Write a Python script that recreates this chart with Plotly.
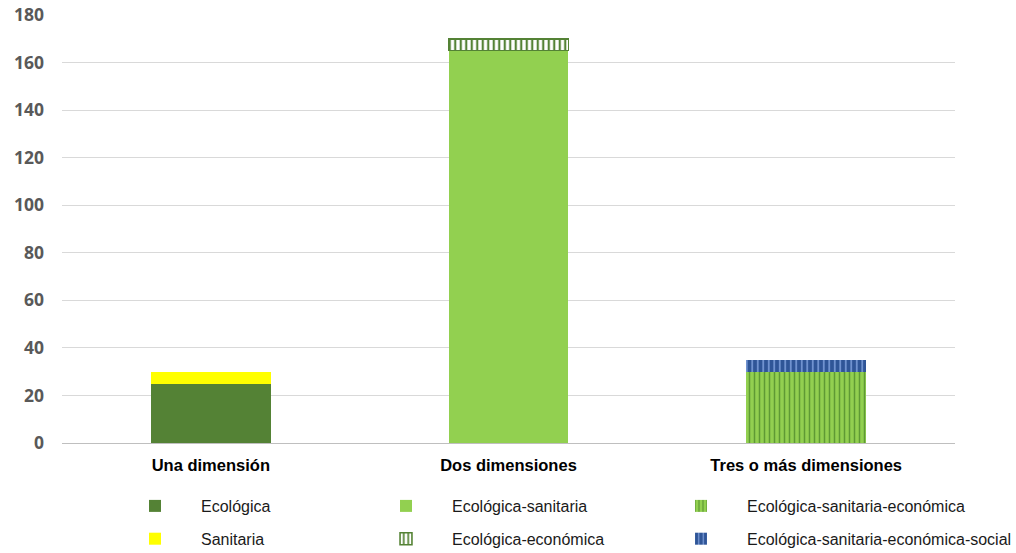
import plotly.graph_objects as go

# Categories on the x axis
categories = ["Una dimensión", "Dos dimensiones", "Tres o más dimensiones"]

# Stacked series (one segment per category, None where a series is absent)
ecologica = [25, None, None]
sanitaria = [5, None, None]
eco_sanitaria = [None, 165, None]
eco_economica = [None, 5, None]
eco_san_economica = [None, None, 30]
eco_san_econ_social = [None, None, 5]

# Y axis ticks
y_ticks = [0, 20, 40, 60, 80, 100, 120, 140, 160, 180]

DARK_GREEN = "#548235"
LIGHT_GREEN = "#92D050"
YELLOW = "#FFFF00"
BLUE = "#2F5597"

fig = go.Figure()


def add_bar(name, values, legend, group, color, pattern=None, line=None):
    marker = dict(color=color)
    if pattern is not None:
        marker["pattern"] = pattern
    if line is not None:
        marker["line"] = line
    else:
        marker["line"] = dict(width=0)
    fig.add_trace(go.Bar(
        x=categories, y=values, name=name, marker=marker,
        legend=legend, legendgroup=group, hoverinfo="x+y+name",
    ))


add_bar("Ecológica", ecologica, "legend", "g1", DARK_GREEN)
add_bar("Sanitaria", sanitaria, "legend", "g2", YELLOW)
add_bar("Ecológica-sanitaria", eco_sanitaria, "legend2", "g3", LIGHT_GREEN)
add_bar("Ecológica-económica", eco_economica, "legend2", "g4", "white",
        pattern=dict(shape="|", fgcolor=DARK_GREEN, bgcolor="white",
                     fillmode="replace", size=5.5, solidity=0.4),
        line=dict(color=DARK_GREEN, width=1.5))
add_bar("Ecológica-sanitaria-económica", eco_san_economica, "legend3", "g5", LIGHT_GREEN,
        pattern=dict(shape="|", fgcolor="#5E9A34", bgcolor=LIGHT_GREEN,
                     fillmode="replace", size=5, solidity=0.3))
add_bar("Ecológica-sanitaria-económica-social", eco_san_econ_social, "legend3", "g6", BLUE,
        pattern=dict(shape="|", fgcolor="#86A6E2", bgcolor=BLUE,
                     fillmode="replace", size=5.5, solidity=0.25))

legend_font = dict(family="Liberation Sans, Arial, sans-serif", size=16, color="#1a1a1a")
legend_common = dict(
    xref="container", yref="container", xanchor="left", yanchor="top",
    orientation="v", bgcolor="rgba(0,0,0,0)", borderwidth=0,
    font=legend_font, itemwidth=82, tracegroupgap=9,
    itemclick=False, itemdoubleclick=False,
)
legend_top = 1 - 489 / 553

fig.update_layout(
    width=1016, height=553,
    margin=dict(l=62, r=61, t=15, b=110, autoexpand=False),
    paper_bgcolor="white", plot_bgcolor="white",
    barmode="stack", bargap=0.597,
    showlegend=True,
    legend=dict(x=109 / 1016, y=legend_top, **legend_common),
    legend2=dict(x=360 / 1016, y=legend_top, **legend_common),
    legend3=dict(x=655 / 1016, y=legend_top, **legend_common),
    xaxis=dict(
        type="category", showgrid=False, zeroline=False,
        showline=True, linecolor="#BFBFBF", linewidth=1,
        ticks="", ticklabelstandoff=7, tickangle=0,
        tickfont=dict(family="Liberation Sans, Arial, sans-serif", size=16.5,
                      color="#000000", weight="bold"),
    ),
    yaxis=dict(
        range=[0, 180], tickvals=y_ticks, showgrid=True,
        gridcolor="#D9D9D9", gridwidth=1, zeroline=False, showline=False,
        ticks="", ticklabelstandoff=17,
        tickfont=dict(family="Open Sans, sans-serif", size=17.5,
                      color="#595959", weight="bold"),
    ),
)

fig.write_html("out.html")
